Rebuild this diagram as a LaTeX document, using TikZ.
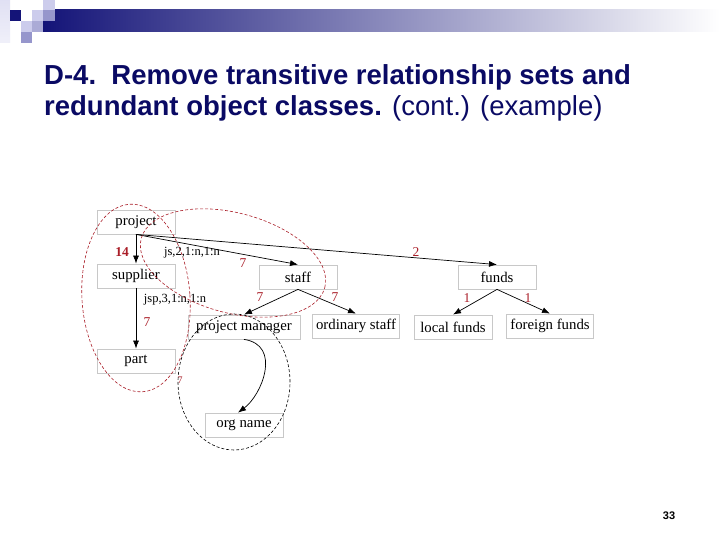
\documentclass[tikz,border=0pt]{standalone}
\usepackage{fontspec}
\setmainfont{Liberation Serif}
\newfontfamily\slidefont{Liberation Sans}
\usepackage{xcolor}
\usetikzlibrary{arrows.meta}

\definecolor{titleblue}{RGB}{10,10,100}
\definecolor{barblue}{RGB}{20,20,120}
\definecolor{relred}{RGB}{170,30,40}
\definecolor{boxgray}{RGB}{200,200,200}
\definecolor{paleblue}{RGB}{204,204,236}
\definecolor{midblue}{RGB}{150,150,204}

\begin{document}
\begin{tikzpicture}[x=1pt, y=-1pt,
  box/.style={draw=boxgray, line width=0.8pt, minimum width=78pt,
    minimum height=24pt, inner sep=0pt, font=\fontsize{14.8}{16}\selectfont},
  rel/.style={-{Latex[length=8pt,width=6pt]}, line width=0.7pt},
  card/.style={text=relred, font=\fontsize{13.5}{15}\selectfont, inner sep=0pt},
  lbl/.style={font=\fontsize{12.5}{14}\selectfont, inner sep=0pt},
  loop/.style={dashed, line width=0.6pt, dash pattern=on 3pt off 2pt}]
  \useasboundingbox (0,0) rectangle (720,540);
  \fill[white] (0,0) rectangle (720,540);

  % Banner and corner squares
  \shade[left color=barblue, right color=white] (43,10) rectangle (720,32);
  \shade[top color=paleblue!60, bottom color=paleblue!30] (0,0) rectangle (10,43);
  \fill[barblue] (10,10) rectangle (21,21);
  \fill[paleblue] (21,21) rectangle (32,32);
  \fill[midblue] (21,32) rectangle (32,43);
  \fill[paleblue] (32,10) rectangle (43,21);
  \fill[midblue!80] (32,21) rectangle (43,32);
  \fill[paleblue] (43,0) rectangle (55,10);
  \fill[midblue] (43,10) rectangle (55,21);

  % Title
  \node[anchor=base west, inner sep=0pt, text=titleblue,
    font=\slidefont\fontsize{27.5}{30}\selectfont\bfseries] (title1) at (44,85)
    {D-4.\ \ Remove transitive relationship sets and};
  \node[anchor=base west, inner sep=0pt, text=titleblue,
    font=\slidefont\fontsize{27.5}{30}\selectfont] (title2) at (44,116)
    {\textbf{redundant object classes.} (cont.) (example)};

  % Object classes
  \node[box] (project) at (136,222) {project};
  \node[box] (supplier) at (136,276) {supplier};
  \node[box] (part) at (136,361) {part};
  \node[box] (staff) at (298,277) {staff};
  \node[box] (funds) at (497,277) {funds};
  \node[box, minimum width=112pt] (pmanager) at (244,327) {project manager};
  \node[box, minimum width=87pt] (ostaff) at (356,326) {ordinary staff};
  \node[box] (lfunds) at (453,327) {local funds};
  \node[box, minimum width=87pt] (ffunds) at (550,326) {foreign funds};
  \node[box] (orgname) at (244,425) {org name};

  % Relationships
  \draw[rel] (project.south) -- (supplier.north);
  \draw[rel] (project.south) -- (staff.north);
  \draw[rel] (project.south) -- (funds.north);
  \draw[rel] (supplier.south) -- (part.north);
  \draw[rel] (staff.south) -- (pmanager.north);
  \draw[rel] (staff.south) -- (ostaff.north);
  \draw[rel] (funds.south) -- (lfunds.north);
  \draw[rel] (funds.south) -- (ffunds.north);
  \draw[rel] (pmanager.south) .. controls (282,345) and (262,395)
    .. ([xshift=-6pt]orgname.north);

  % Labels
  \node[card, font=\fontsize{13.5}{15}\selectfont\bfseries] (c14) at (122,252) {14};
  \node[lbl] (js) at (192,253) {js,2,1:n,1:n};
  \node[card] (c7a) at (243,263) {7};
  \node[card] (c2) at (416,252) {2};
  \node[lbl] (jsp) at (175,300) {jsp,3,1:n,1:n};
  \node[card] (c7b) at (147,322) {7};
  \node[card] (c7c) at (260,297) {7};
  \node[card] (c7d) at (335,297) {7};
  \node[card] (c1a) at (467,298) {1};
  \node[card] (c1b) at (528,298) {1};
  \node[card, font=\fontsize{10}{12}\selectfont] (c7e) at (180,380) {7};

  % Transitive groups
  \draw[loop, relred, rotate around={4:(136,298)}]
    (136,298) ellipse [x radius=54pt, y radius=94pt];
  \draw[loop, relred, rotate around={-15:(233,263)}]
    (233,263) ellipse [x radius=95pt, y radius=50pt];
  \draw[loop, black] (234,382) ellipse [x radius=56pt, y radius=68pt];

  % Page number
  \node[font=\slidefont\fontsize{11}{13}\selectfont\bfseries] (page) at (669,516) {33};
\end{tikzpicture}
\end{document}
